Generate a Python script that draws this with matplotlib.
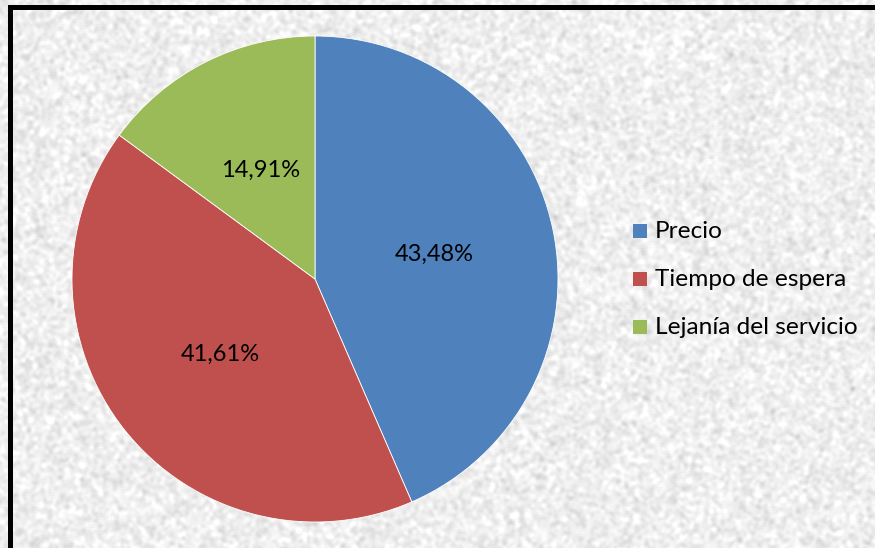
import numpy as np
import matplotlib
matplotlib.use("Agg")
import matplotlib.pyplot as plt
from matplotlib.patches import Rectangle

categories = ["Precio", "Tiempo de espera", "Lejanía del servicio"]
values = [43.48, 41.61, 14.91]
colors = ["#4F81BD", "#C0504D", "#9BBB59"]

plt.rcParams['font.family'] = ['Lato', 'DejaVu Sans']

W, H = 875, 548
fig = plt.figure(figsize=(W/100, H/100), dpi=100)

# textured background (decorative only)
rng = np.random.default_rng(3)
pad = 10
noise = rng.normal(0, 1, (H + 2*pad, W + 2*pad))
k = np.array([1, 2, 3, 4, 3, 2, 1], float); k /= k.sum()
for ax_ in (0, 1):
    noise = np.apply_along_axis(lambda m: np.convolve(m, k, mode='same'), ax_, noise)
noise = noise[pad:-pad, pad:-pad]
noise = noise / noise.std()
tex = np.clip(0.935 + 0.03 * noise, 0.78, 1.0)
bg = fig.add_axes([0, 0, 1, 1])
bg.imshow(tex, cmap='gray', vmin=0, vmax=1, aspect='auto', interpolation='bilinear')
bg.axis('off')

# border (top and left visible)
fig.add_artist(Rectangle((8/W, 0), 5/W, 1 - 5/H, transform=fig.transFigure, color='black', lw=0))
fig.add_artist(Rectangle((8/W, 1 - 9.5/H), 1, 4.5/H, transform=fig.transFigure, color='black', lw=0))

cx, cy, r = 315, 279, 243
ax = fig.add_axes([(cx - r)/W, (H - cy - r)/H, 2*r/W, 2*r/H])
ax.set_facecolor('none')
wedges, texts, autotexts = ax.pie(
    values, colors=colors, startangle=90, counterclock=False,
    autopct=lambda p: f"{p:.2f}%".replace('.', ','), pctdistance=0.5,
    wedgeprops=dict(edgecolor='white', linewidth=0.6),
    textprops=dict(fontsize=17, color='black'))
ax.set_xlim(-1, 1)
ax.set_ylim(-1, 1)
ax.axis('off')

# legend
ys = [231, 279, 327]
for cat, col, y in zip(categories, colors, ys):
    fig.add_artist(Rectangle((633/W, (H - y - 7)/H), 14/W, 14/H, transform=fig.transFigure,
                             color=col, lw=0))
    fig.text(655/W, (H - y)/H, cat, fontsize=17.6, va='center', ha='left', color='black')

fig.savefig("out.png", dpi=100)
